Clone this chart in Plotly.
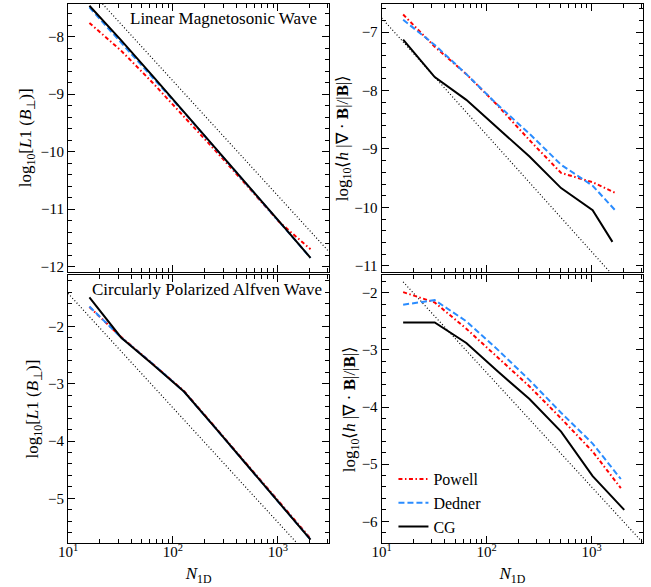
import plotly.graph_objects as go
from plotly.subplots import make_subplots

# ---------------- data ----------------
N = [16, 32, 64, 128, 256, 512, 1024, 2048]

# Linear magnetosonic wave: log10 L1(B_perp)
powell_tl = [-7.76, -8.24, -8.80, -9.39, -9.99, -10.60, -11.22, -11.70]
dedner_tl = [-7.49, -8.10, -8.71, -9.32, -9.95, -10.58, -11.21, -11.85]
cg_tl = [-7.46, -8.06, -8.68, -9.31, -9.94, -10.57, -11.21, -11.85]
ref_x_tl = [10, 3100]
ref_y_tl = [-6.77, -11.75]

# Linear magnetosonic wave: log10 <h |divB| / |B|>
N_tr_pd = [16, 32, 64, 128, 256, 512, 1024, 1720]
N_tr_cg = [16, 32, 64, 128, 256, 512, 1024, 1580]
powell_tr = [-6.70, -7.25, -7.72, -8.26, -8.85, -9.41, -9.57, -9.76]
dedner_tr = [-6.79, -7.22, -7.72, -8.25, -8.74, -9.27, -9.63, -10.07]
cg_tr = [-7.13, -7.77, -8.16, -8.64, -9.13, -9.67, -10.05, -10.59]
ref_x_tr = [10, 3100]
ref_y_tr = [-6.76, -11.74]

# Circularly polarized Alfven wave: log10 L1(B_perp)
powell_bl = [-1.66, -2.18, -2.65, -3.13, -3.77, -4.42, -5.06, -5.70]
dedner_bl = [-1.65, -2.19, -2.65, -3.14, -3.78, -4.43, -5.07, -5.72]
cg_bl = [-1.49, -2.19, -2.66, -3.14, -3.78, -4.43, -5.07, -5.72]
ref_x_bl = [10, 3100]
ref_y_bl = [-1.42, -6.40]

# Circularly polarized Alfven wave: log10 <h |divB| / |B|>
N_br_pd = [16, 32, 64, 128, 256, 512, 1024, 1900]
powell_br = [-1.99, -2.17, -2.63, -3.13, -3.64, -4.20, -4.78, -5.42]
dedner_br = [-2.21, -2.13, -2.50, -3.00, -3.53, -4.10, -4.64, -5.26]
cg_br = [-2.52, -2.52, -2.88, -3.38, -3.86, -4.43, -5.21, -5.80]
ref_x_br = [16, 3100]
ref_y_br = [-1.81, -6.38]

xtick_vals = [10, 100, 1000]
xtick_text = ["10<sup>1</sup>", "10<sup>2</sup>", "10<sup>3</sup>"]

# ---------------- styles ----------------
RED = "#ff0000"
BLUE = "#2a8cff"
FONT = "Liberation Serif"

fig = make_subplots(rows=2, cols=2, horizontal_spacing=0.0912, vertical_spacing=0.0062)


def add_panel(row, col, xp, yp, xd, yd, xc, yc, xr, yr, legend=False):
    fig.add_trace(go.Scatter(x=xr, y=yr, mode="lines",
                             line=dict(color="black", width=1.2, dash="1px,2.2px"),
                             showlegend=False, hoverinfo="skip"), row=row, col=col)
    fig.add_trace(go.Scatter(x=xp, y=yp, mode="lines", name="Powell",
                             line=dict(color=RED, width=2, dash="4px,2.5px,1.5px,2.5px"),
                             showlegend=legend), row=row, col=col)
    fig.add_trace(go.Scatter(x=xd, y=yd, mode="lines", name="Dedner",
                             line=dict(color=BLUE, width=2, dash="6px,3px"),
                             showlegend=legend), row=row, col=col)
    fig.add_trace(go.Scatter(x=xc, y=yc, mode="lines", name="CG",
                             line=dict(color="black", width=2),
                             showlegend=legend), row=row, col=col)


add_panel(1, 1, N, powell_tl, N, dedner_tl, N, cg_tl, ref_x_tl, ref_y_tl)
add_panel(1, 2, N_tr_pd, powell_tr, N_tr_pd, dedner_tr, N_tr_cg, cg_tr, ref_x_tr, ref_y_tr)
add_panel(2, 1, N, powell_bl, N, dedner_bl, N, cg_bl, ref_x_bl, ref_y_bl)
add_panel(2, 2, N_br_pd, powell_br, N_br_pd, dedner_br, N, cg_br, ref_x_br, ref_y_br, legend=True)

axis_common = dict(showline=True, linecolor="black", linewidth=1.2, mirror="ticks",
                   ticks="inside", ticklen=7, tickwidth=1, tickcolor="black",
                   showgrid=False, zeroline=False, automargin=False,
                   tickfont=dict(family=FONT, size=15, color="black"))

xranges = [1, 3.49]
for r in (1, 2):
    for c in (1, 2):
        fig.update_xaxes(type="log", range=xranges, tickvals=xtick_vals, ticktext=xtick_text,
                         minor=dict(ticks="inside", ticklen=4, tickwidth=1, tickcolor="black",
                                    dtick="D1", showgrid=False),
                         showticklabels=(r == 2), ticklabelstandoff=-5,
                         **axis_common, row=r, col=c)
        fig.update_yaxes(dtick=1, minor=dict(ticks="inside", ticklen=4, tickwidth=1,
                                             tickcolor="black", dtick=0.2, showgrid=False),
                         **axis_common, row=r, col=c)

title_font = dict(family=FONT, size=17, color="black")
left_title = "log<sub>10</sub>[<i>L</i>1 (<i>B</i><sub>⊥</sub>)]"
right_title = "log<sub>10</sub>⟨<i>h</i> |∇ · <b>B</b>|/|<b>B</b>|⟩"
fig.update_yaxes(range=[-12.09, -7.43], row=1, col=1,
                 title=dict(text=left_title, font=title_font, standoff=4))
fig.update_yaxes(range=[-11.1, -6.52], row=1, col=2,
                 title=dict(text=right_title, font=title_font, standoff=0))
fig.update_yaxes(range=[-5.78, -1.10], row=2, col=1,
                 title=dict(text=left_title, font=title_font, standoff=4))
fig.update_yaxes(range=[-6.38, -1.69], row=2, col=2,
                 title=dict(text=right_title, font=title_font, standoff=0))
for c in (1, 2):
    fig.update_xaxes(title=dict(text="<i>N</i><sub>1D</sub>", font=title_font, standoff=8),
                     row=2, col=c)

# domains
fig.update_xaxes(domain=[0.0, 0.4544], col=1)
fig.update_xaxes(domain=[0.5456, 1.0], col=2)
fig.update_yaxes(domain=[0.5034, 1.0], row=1)
fig.update_yaxes(domain=[0.0, 0.4972], row=2)

fig.add_annotation(text="Linear Magnetosonic Wave", xref="x domain", yref="y domain",
                   x=0.96, y=0.99, xanchor="right", yanchor="top", showarrow=False,
                   font=dict(family=FONT, size=17, color="black"))
fig.add_annotation(text="Circularly Polarized Alfven Wave", xref="x3 domain", yref="y3 domain",
                   x=0.98, y=0.99, xanchor="right", yanchor="top", showarrow=False,
                   font=dict(family=FONT, size=17, color="black"))

fig.update_layout(
    width=651, height=587,
    margin=dict(l=68, r=8, t=4, b=44),
    plot_bgcolor="white", paper_bgcolor="white",
    font=dict(family=FONT, size=15, color="black"),
    legend=dict(x=0.566, y=-0.002, xanchor="left", yanchor="bottom",
                bgcolor="rgba(0,0,0,0)", font=dict(family=FONT, size=16, color="black"),
                tracegroupgap=0, itemwidth=30),
    showlegend=True,
)

fig.write_html("out.html", config={"displayModeBar": False},
               post_script="document.body.style.margin='0px';")
